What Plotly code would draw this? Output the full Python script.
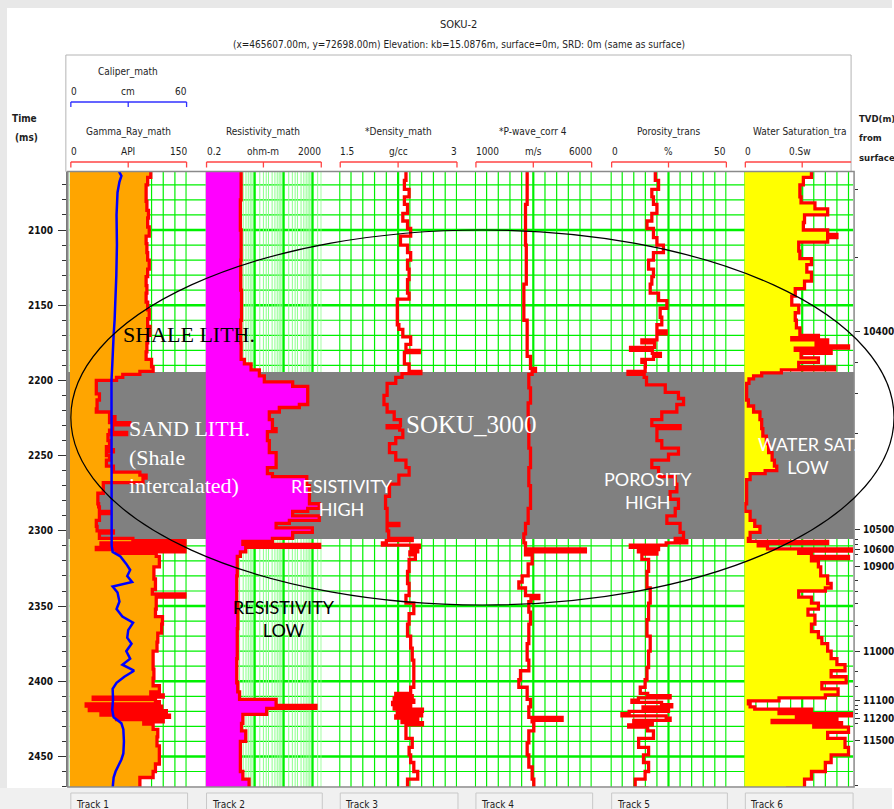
import math
import plotly.graph_objects as go

W, H = 894, 809

# ------------------------------------------------------------------ data
TITLE = "SOKU-2"
SUBTITLE = "(x=465607.00m, y=72698.00m) Elevation: kb=15.0876m, surface=0m, SRD: 0m (same as surface)"

TIME_RANGE = [2470.3, 2061.1]
TIME_TICKS = [2100, 2150, 2200, 2250, 2300, 2350, 2400, 2450]
TVD_LABELS = ["10400", "10500", "10600", "10900", "11000", "11100", "11200", "11500"]
TVD_TIMES = [2167.5, 2299.0, 2312.3, 2324.0, 2380.2, 2412.8, 2424.6, 2439.7]
TVD_MINOR_TIMES = [2072.8, 2118.0, 2188.0, 2209.0, 2235.0, 2306.0, 2309.0, 2316.0, 2333.0,
                   2340.5, 2348.0, 2362.6, 2393.7, 2403.7, 2416.0, 2419.0, 2421.5, 2428.0, 2469.0]
SAND_TOP = 2194.4
SAND_BASE = 2305.5

TRACK_LABELS = ["Track 1", "Track 2", "Track 3", "Track 4", "Track 5", "Track 6"]
CURVE_NAMES = ["Gamma_Ray_math", "Resistivity_math", "*Density_math", "*P-wave_corr 4",
               "Porosity_trans", "Water Saturation_tra"]
CURVE_UNITS = ["API", "ohm-m", "g/cc", "m/s", "%", "0.Sw"]
SCALE_MIN = [0, 0.2, 1.5, 1000, 0, 0]
SCALE_MAX = [150, 2000, 3, 6000, 50, 1]
SCALE_LEFT_TEXT = ["0", "0.2", "1.5", "1000", "0", "0"]
SCALE_RIGHT_TEXT = ["150", "2000", "3", "6000", "50", ""]
CALIPER_NAME = "Caliper_math"
CALIPER_UNIT = "cm"
CALIPER_MIN, CALIPER_MAX = 0, 60

GR_T = [2060, 2065, 2070, 2076, 2081, 2087, 2092, 2098, 2104, 2109,
        2115, 2120, 2126, 2131, 2137, 2142, 2148, 2153, 2159, 2164,
        2170, 2175, 2181, 2186, 2191, 2194, 2196, 2198, 2200, 2203,
        2209, 2213, 2219, 2221, 2224, 2226, 2228, 2229.5, 2233, 2234.5,
        2236, 2240, 2244, 2246, 2247.5, 2250, 2253, 2257, 2261, 2263,
        2265, 2268, 2275, 2282, 2284, 2287, 2288.5, 2290, 2293, 2297,
        2300, 2301.5, 2303, 2305, 2306.5, 2308, 2309.5, 2311, 2312.5, 2314,
        2315, 2317, 2324, 2332, 2339, 2342, 2344, 2352, 2357, 2362,
        2368, 2374, 2380, 2386, 2392, 2398, 2403, 2407, 2409, 2410.5,
        2412, 2413.5, 2415, 2416.5, 2418, 2419.5, 2421, 2422.5, 2424, 2425.5,
        2427, 2428.5, 2432, 2437, 2443, 2448, 2455, 2460, 2464, 2471]
GR_API = [104, 100, 98, 98, 99, 101, 100, 102, 98, 99,
          100, 102, 100, 98, 99, 98, 100, 102, 100, 103,
          100, 99, 98, 105, 107, 90, 68, 60, 34, 34,
          38, 35, 34, 51, 58, 51, 77, 55, 51, 73,
          49, 51, 47, 56, 47, 51, 47, 56, 90, 98,
          94, 43, 36, 37, 38, 51, 38, 38, 34, 35,
          56, 38, 38, 81, 150, 40, 150, 34, 150, 60,
          111, 115, 108, 110, 106, 150, 111, 110, 119, 118,
          113, 112, 107, 107, 108, 107, 115, 104, 120, 30,
          110, 115, 21, 118, 25, 124, 40, 128, 60, 120,
          95, 107, 113, 112, 115, 115, 110, 107, 90, 77]

CAL_T = [2060, 2064, 2068, 2075, 2090, 2110, 2130, 2150, 2160, 2170,
         2185, 2190, 2200, 2250, 2290, 2300, 2310, 2314, 2317, 2322,
         2326, 2330, 2334, 2337, 2341, 2347, 2352, 2357, 2361, 2366,
         2371, 2375, 2380, 2385, 2389, 2393, 2397, 2401, 2405, 2412,
         2419, 2424, 2428, 2432, 2440, 2448, 2452, 2456, 2460, 2464, 2471]
CAL_CM = [24.8, 26.5, 25.5, 24.5, 24, 24.2, 23.9, 23.5, 23, 22.5,
          22.2, 21.8, 21.4, 21.6, 21.8, 21.8, 21.5, 22, 26, 29,
          31, 29.5, 32, 22, 24.5, 25.5, 24, 27, 32.5, 30,
          29.5, 31.7, 29, 31, 27, 33, 28, 24, 22, 22.2,
          21.8, 22.5, 26.5, 27.5, 27.8, 27.5, 26.5, 25, 23.5, 22.5, 22]

RES_T = [2060, 2080, 2100, 2120, 2140, 2160, 2175, 2186, 2189, 2193,
         2197, 2201, 2204, 2213, 2216, 2218, 2221, 2226, 2232, 2234,
         2240, 2248, 2258, 2262, 2264, 2270, 2279, 2282, 2285, 2287,
         2290, 2293, 2295, 2298, 2301, 2305, 2307, 2309, 2311, 2314,
         2317, 2330, 2348, 2365, 2385, 2401, 2407, 2412, 2416, 2418,
         2422, 2428, 2433, 2440, 2450, 2460, 2465, 2471]
RES_OHMM = [3.4, 3.2, 3.4, 3.3, 3.5, 3.3, 3.4, 4.4, 7.5, 14.5,
            21.5, 205, 680, 680, 350, 71, 32, 41, 55, 27.5,
            32, 55, 27.5, 41, 630, 780, 780, 1700, 680, 205,
            1700, 158, 55, 980, 205, 41, 3.9, 2000, 4.9, 3.2,
            2.5, 2.4, 2.6, 2.5, 2.4, 2.6, 3.0, 55, 1310, 26,
            3.9, 3.5, 4.9, 3.2, 3.2, 3.9, 6.4, 7]

DEN_T = [2060, 2067, 2073, 2078, 2083, 2089, 2094, 2099, 2104, 2110,
         2115, 2120, 2126, 2133, 2142, 2146, 2152, 2160, 2163, 2166,
         2171, 2176, 2180, 2181.5, 2184, 2189, 2194, 2195.5, 2198, 2202,
         2210, 2216, 2221, 2226, 2230, 2231.5, 2233, 2238, 2242, 2248,
         2253, 2258, 2263, 2269, 2277, 2285, 2290, 2295, 2296.5, 2300,
         2305, 2306.5, 2308, 2309.5, 2311, 2312.5, 2314, 2316, 2319, 2327,
         2335, 2343, 2348, 2355, 2362, 2370, 2378, 2386, 2393, 2398,
         2404, 2408, 2409.5, 2411, 2412.5, 2414, 2415.5, 2417, 2418.5, 2420,
         2421.5, 2423, 2424.5, 2426, 2427.5, 2429, 2433, 2438, 2444, 2449,
         2454, 2460, 2465, 2471]
DEN_GCC = [2.35, 2.33, 2.39, 2.33, 2.37, 2.31, 2.37, 2.41, 2.28, 2.37,
           2.41, 2.37, 2.39, 2.37, 2.39, 2.24, 2.24, 2.24, 2.26, 2.31,
           2.41, 2.35, 2.52, 2.33, 2.33, 2.39, 2.54, 2.30, 2.22, 2.11,
           2.07, 2.11, 2.20, 2.28, 2.11, 2.27, 2.31, 2.22, 2.14, 2.22,
           2.35, 2.39, 2.26, 2.14, 2.09, 2.11, 2.11, 2.26, 2.11, 2.13,
           2.43, 2.10, 2.05, 2.52, 2.42, 2.50, 2.40, 2.47, 2.39, 2.37,
           2.39, 2.35, 2.45, 2.39, 2.37, 2.41, 2.43, 2.45, 2.45, 2.45,
           2.41, 2.22, 2.43, 2.20, 2.45, 2.18, 2.41, 2.20, 2.56, 2.24,
           2.55, 2.22, 2.50, 2.30, 2.56, 2.35, 2.35, 2.43, 2.39, 2.41,
           2.45, 2.50, 2.37, 2.28]

PW_T = [2060, 2083, 2110, 2136, 2160, 2184, 2192, 2194, 2196, 2205,
        2215, 2230, 2245, 2258, 2270, 2285, 2295, 2302, 2308, 2312,
        2314, 2316, 2322, 2330, 2334, 2338, 2343, 2345, 2347, 2354,
        2362, 2375, 2386, 2393, 2399, 2404, 2412, 2417, 2424, 2426,
        2427, 2433, 2441, 2449, 2457, 2465, 2471]
PW_MS = [3237, 3166, 3200, 3095, 3237, 3380, 3594, 3450, 3308, 3380,
         3280, 3308, 3380, 3308, 3380, 3280, 3166, 3095, 3166, 5731,
         3166, 3451, 3280, 3023, 2881, 3166, 3736, 3400, 3308, 3380,
         3308, 3237, 3308, 2952, 2881, 3237, 3380, 3308, 4734, 3450,
         3522, 3308, 3237, 3308, 3451, 3522, 3594]

POR_T = [2060, 2067, 2073, 2078, 2083, 2089, 2094, 2099, 2105, 2110,
         2115, 2120, 2126, 2131, 2136, 2142, 2147, 2152, 2158, 2163,
         2167, 2169, 2173, 2175, 2178, 2180, 2182, 2184, 2186, 2188,
         2191, 2194, 2196, 2198, 2203, 2208, 2212, 2216, 2221, 2226,
         2230, 2232, 2234, 2240, 2245, 2249, 2253, 2258, 2264, 2269,
         2274, 2279, 2285, 2290, 2295, 2301, 2305, 2306.5, 2308, 2309.5,
         2311, 2312.5, 2314, 2315.5, 2319, 2327, 2338, 2348, 2359, 2370,
         2380, 2391, 2399, 2404, 2408, 2409.5, 2411, 2412.5, 2414, 2415.5,
         2417, 2418.5, 2420, 2421.5, 2423, 2424.5, 2426, 2427.5, 2429, 2430.5,
         2433, 2438, 2444, 2449, 2454, 2460, 2465, 2471]
POR_PCT = [19.3, 20.7, 17.8, 18.5, 20, 17.8, 15.7, 18.5, 20, 22.8,
           18.5, 16.4, 18.5, 17.8, 17.1, 20.7, 24.3, 21.4, 22.1, 20,
           24, 20, 13.5, 19, 8.6, 18, 21.5, 18.5, 13.5, 15,
           14.9, 7.5, 14.5, 15.5, 23.6, 29.3, 31.5, 28.6, 22.1, 17.8,
           30, 20, 20, 22.1, 29.3, 25, 17.8, 20.7, 27.9, 28.6,
           25.7, 29.3, 27.9, 24.3, 30, 31.5, 27.9, 32.9, 24, 8.5,
           20.7, 12, 20, 13.5, 16.4, 15.7, 17.1, 16.4, 15.7, 17.1,
           16.4, 15.7, 14.9, 12.8, 16, 25.7, 12, 9.2, 22, 26.4,
           14, 25, 8, 4.9, 24, 25.7, 10, 18, 7.8, 16,
           18.5, 12.1, 16.4, 14.2, 16.4, 14.9, 10.6, 16.4]

SW_T = [2060, 2065, 2070, 2078, 2082, 2086, 2090, 2095, 2100, 2103,
        2105, 2108, 2114, 2119, 2123, 2128, 2134, 2139, 2144, 2150,
        2155, 2160, 2165, 2170, 2171.5, 2173, 2175, 2177, 2178.5, 2180,
        2182, 2185, 2188, 2191, 2193, 2195, 2197, 2199, 2202, 2208,
        2213, 2217, 2221, 2226, 2232, 2237, 2242, 2248, 2253, 2257,
        2260, 2262, 2266, 2274, 2282, 2287, 2293, 2297, 2301, 2305,
        2307, 2308.5, 2310, 2312, 2313.5, 2315, 2317, 2318.5, 2320, 2324,
        2330, 2335, 2338, 2340, 2344, 2348, 2352, 2356, 2362, 2367,
        2371, 2375, 2380, 2385, 2389, 2393, 2397, 2401, 2405, 2409,
        2411, 2413, 2415, 2417, 2418.5, 2420, 2421.5, 2423, 2424.5, 2426,
        2427.5, 2429, 2430.5, 2434, 2438, 2444, 2449, 2454, 2460, 2465, 2471]
SW_FRAC = [.58, .51, .48, .49, .61, .72, .52, .51, .72, .80,
           .72, .47, .48, .58, .54, .58, .52, .44, .41, .47,
           .44, .45, .48, .64, .41, .72, .62, .90, .44, .75,
           .49, .64, .47, .78, .32, .15, .08, .04, .02, .02,
           .035, .08, .135, .15, .16, .19, .21, .24, .26, .28,
           .18, .05, .02, .02, .006, .05, .09, .135, .05, .035,
           .72, .12, .20, .93, .47, .58, .90, .58, .64, .66,
           .72, .75, .70, .47, .58, .64, .55, .61, .58, .64,
           .67, .72, .75, .80, .87, .75, .88, .67, .81, .70,
           .30, .035, .05, .09, .58, .30, .93, .45, .80, .24,
           .84, .60, .90, .72, .87, .90, .75, .70, .58, .52, .36]

# ------------------------------------------------------------------ layout constants
PLOT_L, PLOT_R, PLOT_T, PLOT_B = 68, 856, 171.5, 787
TRACK_PX = [(70, 187), (206, 322), (340, 458), (476, 593), (612, 728), (746, 862)]
CLIP_R = 855
LOG_TRACK = 1

RED = "#ff0000"
ORANGE = "#ffa500"
MAGENTA = "#ff00ff"
YELLOW = "#ffff00"
BLUE = "#0000ff"
GREEN = "#00f000"
GREEN_LIGHT = "#8cff8c"
GRAY_BAND = "#808080"
CURVE_W = 3.3
NARROW = "Liberation Sans Narrow, Arial Narrow, DejaVu Sans Condensed, Liberation Sans, sans-serif"
SERIF = "Liberation Serif, Times New Roman, serif"
LABEL_SANS = "Lato, Liberation Sans, sans-serif"
HDR = "#1e1e1e"


def X(p):
    return p / W


def Y(p):
    return 1 - p / H


fig = go.Figure()

# ------------------------------------------------------------------ axes
layout_axes = dict(
    xaxis=dict(domain=[X(PLOT_L), X(PLOT_R)], range=[0, 1], visible=False, anchor="y"),
    yaxis=dict(domain=[Y(PLOT_B), Y(PLOT_T)], range=TIME_RANGE, anchor="x",
               tickmode="array", tickvals=TIME_TICKS, ticks="outside", ticklen=8,
               tickcolor="#333", tickwidth=1, showgrid=False, zeroline=False,
               showline=True, linecolor="#7a7a7a", linewidth=1.5,
               tickfont=dict(family=NARROW, size=10, color="#111", weight="bold"),
               ticklabelstandoff=3,
               minor=dict(tickmode="linear", tick0=2060, dtick=10, ticks="outside",
                          ticklen=4, tickcolor="#333", showgrid=False)),
    yaxis2=dict(overlaying="y", side="right", anchor="x", range=TIME_RANGE,
                tickmode="array", tickvals=TVD_TIMES, ticktext=TVD_LABELS,
                ticks="outside", ticklen=5, tickcolor="#333", showgrid=False,
                zeroline=False, showline=False,
                tickfont=dict(family=NARROW, size=10, color="#111", weight="bold"),
                ticklabelstandoff=1,
                minor=dict(tickmode="array", tickvals=TVD_MINOR_TIMES, ticks="outside",
                           ticklen=3, tickcolor="#333", showgrid=False)),
)

track_ranges = []
for i, (l, r) in enumerate(TRACK_PX):
    rr = min(r, CLIP_R)
    lo, hi = SCALE_MIN[i], SCALE_MAX[i]
    if i == LOG_TRACK:
        rng = [math.log10(lo), math.log10(hi)]
        ax = dict(type="log", range=rng)
    else:
        rng = [lo, lo + (hi - lo) * (rr - l) / (r - l)]
        ax = dict(range=rng)
    track_ranges.append(rng)
    ax.update(domain=[X(l), X(rr)], anchor="y", visible=False, showgrid=False, zeroline=False)
    layout_axes[f"xaxis{i + 2}"] = ax

layout_axes["xaxis8"] = dict(overlaying="x2", range=[CALIPER_MIN, CALIPER_MAX], visible=False,
                             anchor="y", showgrid=False, zeroline=False)

# ------------------------------------------------------------------ traces
fig.add_trace(go.Scatter(x=GR_API, y=GR_T, xaxis="x2", yaxis="y", mode="lines",
                         line=dict(color=RED, width=CURVE_W, shape="vh"),
                         fill="tozerox", fillcolor=ORANGE, hoverinfo="skip"))
fig.add_trace(go.Scatter(x=CAL_CM, y=CAL_T, xaxis="x8", yaxis="y", mode="lines",
                         line=dict(color=BLUE, width=2.5), hoverinfo="skip"))
fig.add_trace(go.Scatter(x=[SCALE_MIN[1]] * len(RES_T), y=RES_T, xaxis="x3", yaxis="y",
                         mode="lines", line=dict(width=0, color=MAGENTA), hoverinfo="skip"))
fig.add_trace(go.Scatter(x=RES_OHMM, y=RES_T, xaxis="x3", yaxis="y", mode="lines",
                         line=dict(color=RED, width=CURVE_W, shape="vh"),
                         fill="tonextx", fillcolor=MAGENTA, hoverinfo="skip"))
fig.add_trace(go.Scatter(x=DEN_GCC, y=DEN_T, xaxis="x4", yaxis="y", mode="lines",
                         line=dict(color=RED, width=CURVE_W, shape="vh"), hoverinfo="skip"))
fig.add_trace(go.Scatter(x=PW_MS, y=PW_T, xaxis="x5", yaxis="y", mode="lines",
                         line=dict(color=RED, width=CURVE_W, shape="vh"), hoverinfo="skip"))
fig.add_trace(go.Scatter(x=POR_PCT, y=POR_T, xaxis="x6", yaxis="y", mode="lines",
                         line=dict(color=RED, width=CURVE_W, shape="vh"), hoverinfo="skip"))
fig.add_trace(go.Scatter(x=SW_FRAC, y=SW_T, xaxis="x7", yaxis="y", mode="lines",
                         line=dict(color=RED, width=CURVE_W, shape="vh"),
                         fill="tozerox", fillcolor=YELLOW, hoverinfo="skip"))
fig.add_trace(go.Scatter(x=[], y=[], xaxis="x", yaxis="y2", mode="lines", hoverinfo="skip"))

# ------------------------------------------------------------------ shapes
shapes = []


def prect(x0, y0, x1, y1, fill=None, line=None, lw=1, layer="below"):
    shapes.append(dict(type="rect", xref="paper", yref="paper", x0=X(x0), x1=X(x1),
                       y0=Y(y1), y1=Y(y0), fillcolor=fill or "rgba(0,0,0,0)",
                       line=dict(color=line or "rgba(0,0,0,0)", width=lw if line else 0),
                       layer=layer))


def pline(x0, y0, x1, y1, color, width=1, layer="above"):
    shapes.append(dict(type="line", xref="paper", yref="paper", x0=X(x0), x1=X(x1),
                       y0=Y(y0), y1=Y(y1), line=dict(color=color, width=width), layer=layer))


# window chrome
prect(0, 0, 7, H, fill="#e8e8e8")
prect(0, 0, W, 8, fill="#e8e8e8")
prect(0, 788, W, H, fill="#f0f0f0")
prect(PLOT_L, PLOT_T, PLOT_R, PLOT_B, fill="#ffffff")

# horizontal grid (time)
for t in range(2070, 2461, 10):
    bold = (t % 50 == 0)
    shapes.append(dict(type="line", xref="paper", yref="y", x0=X(TRACK_PX[0][0]), x1=X(CLIP_R),
                       y0=t, y1=t, layer="below",
                       line=dict(color=GREEN, width=2.4 if bold else 1.2)))

# vertical grid per track
for i, (l, r) in enumerate(TRACK_PX):
    xref = f"x{i + 2}"
    lo, hi = SCALE_MIN[i], SCALE_MAX[i]
    if i == LOG_TRACK:
        vals = []
        for e in range(-1, 4):
            for m in [1, 1.5, 2, 2.5, 3, 4, 5, 6, 7, 8, 9]:
                v = m * 10 ** e
                if lo <= v <= hi:
                    vals.append((v, m == 1))
        vals.append((hi, False))
        for v, bold in vals:
            shapes.append(dict(type="line", xref=xref, yref="paper", x0=v, x1=v,
                               y0=Y(PLOT_B), y1=Y(PLOT_T), layer="below",
                               line=dict(color=GREEN if bold else GREEN_LIGHT,
                                         width=2.2 if bold else 1)))
    else:
        vmax = track_ranges[i][1]
        for k in range(11):
            v = lo + (hi - lo) * k / 10
            if v > vmax + 1e-9:
                continue
            bold = k in (0, 5, 10)
            shapes.append(dict(type="line", xref=xref, yref="paper", x0=v, x1=v,
                               y0=Y(PLOT_B), y1=Y(PLOT_T), layer="below",
                               line=dict(color=GREEN, width=2.2 if bold else 1.2)))

# reservoir zone band
shapes.append(dict(type="rect", xref="paper", yref="y", x0=X(PLOT_L), x1=X(PLOT_R),
                   y0=SAND_TOP, y1=SAND_BASE, fillcolor=GRAY_BAND, line=dict(width=0),
                   layer="below"))

# plot frame and header frame
prect(PLOT_L, PLOT_T, PLOT_R, PLOT_B, line="#8a8a8a", lw=1.5, layer="above")
prect(66, 55, 853, PLOT_T, line="#b4b4b4", lw=1, layer="below")

# highlight ellipse
shapes.append(dict(type="circle", xref="paper", yref="paper", x0=X(71), x1=X(896),
                   y0=Y(605), y1=Y(230), line=dict(color="#000000", width=1.2), layer="above"))

# header scale brackets
BR_Y, BR_T = 162, 167.5
for i, (l, r) in enumerate(TRACK_PX):
    rr = min(r, 853)
    c = (l + r) / 2
    pline(l + 1, BR_Y, rr, BR_Y, "#ff4444", 1.3)
    pline(l + 1, BR_Y, l + 1, BR_T, "#ff4444", 1.3)
    pline(c, BR_Y, c, BR_T, "#ff4444", 1.3)
    if r <= 853:
        pline(r, BR_Y, r, BR_T, "#ff4444", 1.3)
l, r = TRACK_PX[0]
pline(l + 1, 102, r, 102, "#3030ff", 1.3)
for xx in (l + 1, (l + r) / 2, r):
    pline(xx, 102, xx, 107, "#3030ff", 1.3)

# bottom track label boxes
for i, (l, r) in enumerate(TRACK_PX):
    rr = min(r + 1, CLIP_R)
    prect(l + 1, 793, rr, 812, fill="#f2f2f2", line="#c8c8c8", lw=1, layer="above")

# ------------------------------------------------------------------ annotations
ann = []


def txt(x, y, s, size=10, color=HDR, family=NARROW, xanchor="center", bold=False, align="center"):
    ann.append(dict(x=X(x), y=Y(y), xref="paper", yref="paper", text=s, showarrow=False,
                    xanchor=xanchor, yanchor="middle", align=align,
                    font=dict(size=size, color=color, family=family,
                              weight="bold" if bold else "normal")))


txt(460, 24, TITLE, size=11)
txt(460, 44, SUBTITLE, size=10)
txt(25, 118, "Time", bold=True)
txt(27, 137, "(ms)", bold=True)
txt(859, 118, "TVD(m)", size=9.5, xanchor="left", bold=True)
txt(859, 137, "from", size=9.5, xanchor="left", bold=True)
txt(859, 157, "surface", size=9.5, xanchor="left", bold=True)

l, r = TRACK_PX[0]
txt((l + r) / 2, 72, CALIPER_NAME)
txt(l - 1, 92, str(CALIPER_MIN), xanchor="left")
txt((l + r) / 2, 92, CALIPER_UNIT)
txt(r + 2, 92, str(CALIPER_MAX), xanchor="right")

for i, (l, r) in enumerate(TRACK_PX):
    c = (l + r) / 2
    txt(c - (2 if i == 5 else 0), 132, CURVE_NAMES[i])
    txt(l - 1, 152, SCALE_LEFT_TEXT[i], xanchor="left")
    txt(c - (2 if i == 5 else 0), 152, CURVE_UNITS[i])
    if SCALE_RIGHT_TEXT[i]:
        txt(r + 2, 152, SCALE_RIGHT_TEXT[i], xanchor="right")
    txt(l + 4, 804, TRACK_LABELS[i], size=10, xanchor="left")

# interpretation labels
txt(121, 334, "SHALE LITH.", size=22, color="#000000", family=SERIF, xanchor="left")
txt(127, 457, "SAND LITH.<br>(Shale<br>intercalated)", size=22, color="#ffffff",
    family=SERIF, xanchor="left", align="left")
txt(405, 424, "SOKU_3000", size=25, color="#ffffff", family=SERIF, xanchor="left")
txt(343, 497, "RESISTIVITY<br>HIGH", size=18, color="#ffffff", family=LABEL_SANS)
txt(285, 618, "RESISTIVITY<br>LOW", size=18, color="#000000", family=LABEL_SANS)
txt(649, 490, "POROSITY<br>HIGH", size=18, color="#ffffff", family=LABEL_SANS)
txt(810, 455, "WATER SAT.<br>LOW", size=18, color="#ffffff", family=LABEL_SANS)

fig.update_layout(
    width=W, height=H, autosize=False,
    margin=dict(l=0, r=0, t=0, b=0, pad=0),
    paper_bgcolor="#ffffff", plot_bgcolor="rgba(0,0,0,0)",
    showlegend=False, shapes=shapes, annotations=ann,
    **layout_axes,
)

fig.write_html("out.html", config={"displayModeBar": False},
               post_script="document.body.style.margin='0px';document.body.style.overflow='hidden';")
